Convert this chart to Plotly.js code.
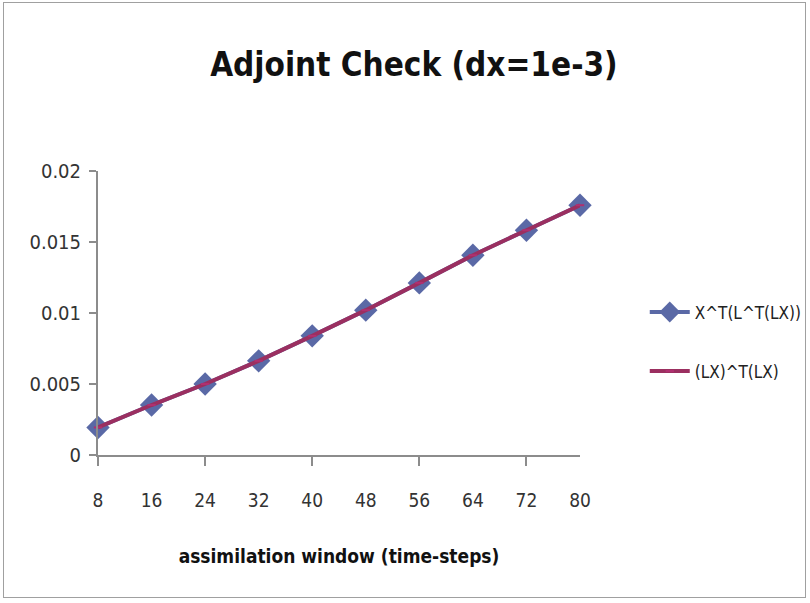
<!DOCTYPE html>
<html>
<head>
<meta charset="utf-8">
<script src="https://cdn.plot.ly/plotly-3.0.1.min.js"></script>
<style>
  html, body { margin: 0; padding: 0; background: #ffffff; }
  #frame { position: absolute; left: 3px; top: 2px; width: 801px; height: 594px; border: 1px solid #a0a0a0; }
  #chart { position: absolute; left: 0; top: 0; width: 810px; height: 603px; }
</style>
</head>
<body>
<div id="frame"></div>
<div id="chart"></div>
<script>
const windowSteps = [8, 16, 24, 32, 40, 48, 56, 64, 72, 80];
const xtLtLx = [0.00194, 0.00352, 0.00500, 0.00663, 0.00839, 0.01020, 0.01212, 0.01407, 0.01583, 0.01759];
const lxTlx  = [0.00194, 0.00352, 0.00500, 0.00663, 0.00839, 0.01020, 0.01212, 0.01407, 0.01583, 0.01759];
const xTickLabels = ['8', '16', '24', '32', '40', '48', '56', '64', '72', '80'];
const xMarkVals = [8, 24, 40, 56, 72];
const yTickVals = [0, 0.005, 0.01, 0.015, 0.02];
const yTickLabels = ['0', '0.005', '0.01', '0.015', '0.02'];

const narrow = '"DejaVu Sans Condensed", "Liberation Sans Narrow", sans-serif';

const traces = [
  {
    x: windowSteps, y: xtLtLx, name: 'X^T(L^T(LX))', legendgroup: 'a',
    type: 'scatter', mode: 'lines+markers',
    line: { color: '#5a69a6', width: 4 },
    marker: { symbol: 'diamond', size: 18, color: '#5a69a6' },
    cliponaxis: false
  },
  {
    x: windowSteps, y: lxTlx, name: '(LX)^T(LX)', legendgroup: 'b',
    type: 'scatter', mode: 'lines+markers',
    line: { color: '#9b2f60', width: 4 },
    marker: { symbol: 'line-ew-open', size: 6, color: '#b03070', line: { width: 2, color: '#b03070' } },
    cliponaxis: false
  }
];

const layout = {
  width: 810, height: 603,
  paper_bgcolor: 'rgba(0,0,0,0)', plot_bgcolor: 'rgba(0,0,0,0)',
  margin: { l: 98, r: 230, t: 171, b: 148 },
  title: {
    text: 'Adjoint Check (dx=1e-3)',
    font: { family: narrow, size: 33, color: '#111111', weight: 'bold' },
    x: 0.511, xanchor: 'center', y: 0.893, yanchor: 'middle'
  },
  xaxis: {
    range: [8, 80], showgrid: false, zeroline: false,
    tickmode: 'array', tickvals: windowSteps, ticktext: xTickLabels,
    ticks: '', ticklabelstandoff: 27,
    tickfont: { family: narrow, size: 19, color: '#333333' },
    showline: true, linecolor: '#8c8c8c', linewidth: 2,
    minor: { tickmode: 'array', tickvals: xMarkVals, ticks: 'outside', ticklen: 9, tickwidth: 2, tickcolor: '#8c8c8c', showgrid: false },
    title: { text: '<b>assimilation window (time-steps)</b>', font: { family: narrow, size: 19, color: '#111111' }, standoff: 40 },
    automargin: false,
    fixedrange: true
  },
  yaxis: {
    range: [0, 0.02], showgrid: false, zeroline: false,
    tickmode: 'array', tickvals: yTickVals, ticktext: yTickLabels,
    ticks: 'outside', ticklen: 7, tickwidth: 2, tickcolor: '#8c8c8c',
    ticklabelstandoff: 4,
    tickfont: { family: narrow, size: 20, color: '#333333' },
    showline: true, linecolor: '#8c8c8c', linewidth: 2,
    automargin: false,
    fixedrange: true
  },
  legend: {
    xref: 'container', x: 0.796, xanchor: 'left',
    y: 0.398, yanchor: 'middle',
    font: { family: narrow, size: 17, color: '#222222' },
    bgcolor: 'rgba(0,0,0,0)', itemwidth: 40,
    traceorder: 'grouped', tracegroupgap: 34
  },
  showlegend: true
};

Plotly.newPlot('chart', traces, layout, { displayModeBar: false, staticPlot: true });
</script>
</body>
</html>
